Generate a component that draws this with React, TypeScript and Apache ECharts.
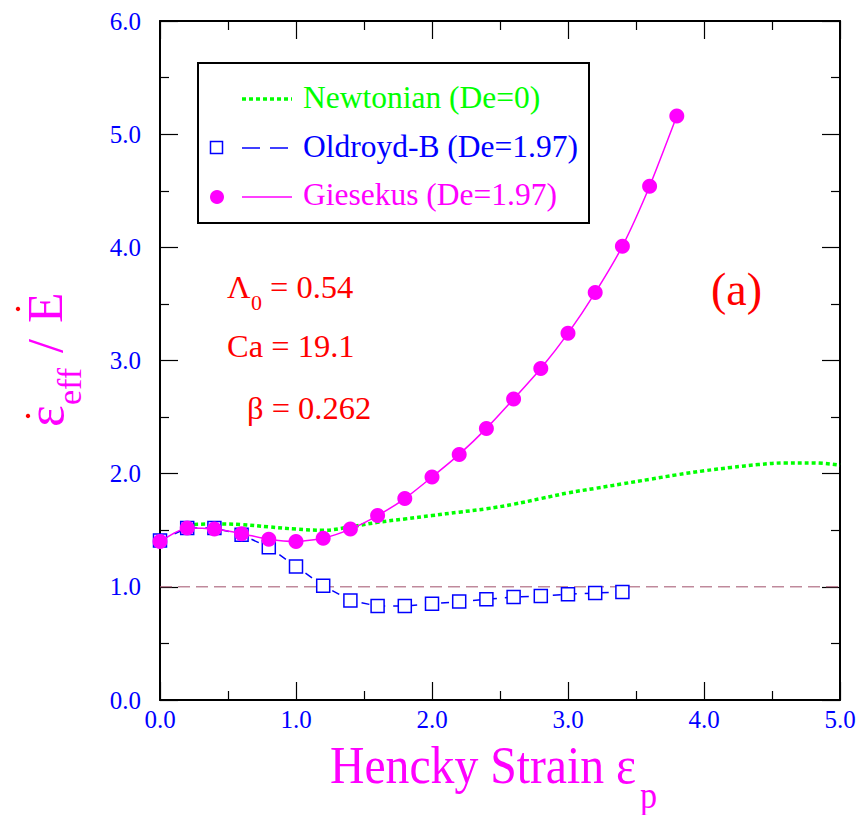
import React, { useEffect, useRef } from "react";
import * as echarts from "echarts";

// ---- data ----
const strainGiesekus = [0, 0.2, 0.4, 0.6, 0.8, 1.0, 1.2, 1.4, 1.6, 1.8, 2.0, 2.2, 2.4, 2.6, 2.8, 3.0, 3.2, 3.4, 3.6, 3.8];
const giesekus = [1.40, 1.52, 1.51, 1.47, 1.42, 1.40, 1.43, 1.51, 1.63, 1.78, 1.97, 2.17, 2.40, 2.66, 2.93, 3.24, 3.60, 4.01, 4.54, 5.16];

const strainOldroyd = [0, 0.2, 0.4, 0.6, 0.8, 1.0, 1.2, 1.4, 1.6, 1.8, 2.0, 2.2, 2.4, 2.6, 2.8, 3.0, 3.2, 3.4];
const oldroyd = [1.41, 1.52, 1.52, 1.46, 1.35, 1.18, 1.01, 0.88, 0.83, 0.83, 0.85, 0.87, 0.89, 0.91, 0.92, 0.935, 0.945, 0.955];

const strainNewtonian = [0.2, 0.4, 0.6, 0.8, 1.0, 1.2, 1.4, 1.6, 1.8, 2.0, 2.2, 2.4, 2.6, 2.8, 3.0, 3.2, 3.4, 3.6, 3.8, 4.0, 4.2, 4.4, 4.6, 4.8, 5.0];
const newtonian = [1.55, 1.555, 1.55, 1.53, 1.51, 1.50, 1.53, 1.57, 1.60, 1.63, 1.66, 1.69, 1.73, 1.78, 1.83, 1.87, 1.91, 1.95, 1.99, 2.025, 2.055, 2.08, 2.095, 2.095, 2.075];

const referenceStrain = [0, 5];
const referenceValue = [1, 1];

const legendLabels = ["Newtonian (De=0)", "Oldroyd-B (De=1.97)", "Giesekus (De=1.97)"];
const annotationLines = ["Ca = 19.1", "\u03B2 = 0.262"];

const SERIF = "'Liberation Serif', serif";
const GREEN = "#00ff00";
const BLUE = "#0000ff";
const MAGENTA = "#ff00ff";
const RED = "#ff0000";

const zip = (xs: number[], ys: number[]) => xs.map((x, i) => [x, ys[i]]);

export default function App() {
  const ref = useRef<HTMLDivElement>(null);

  useEffect(() => {
    if (!ref.current) return;
    const chart = echarts.init(ref.current, undefined, { renderer: "svg" });

    const axisCommon = {
      axisLine: { show: true, onZero: false, lineStyle: { color: "#000", width: 2 } },
      axisTick: { show: true, inside: true, length: 18, lineStyle: { color: "#000", width: 1.2 } },
      minorTick: { show: true, splitNumber: 2, length: 9, lineStyle: { color: "#000", width: 1.2 } },
      splitLine: { show: false },
    };

    const tickRich = {
      t: { color: BLUE, fontFamily: SERIF, fontSize: 25 },
    };

    const labelStyle = {
      color: BLUE,
      fontFamily: SERIF,
      fontSize: 25,
      formatter: (v: number) => `{t|${v.toFixed(1)}}`,
      rich: tickRich,
    };

    const option: any = {
      animation: false,
      backgroundColor: "#fff",
      textStyle: { fontFamily: SERIF },
      grid: { left: 160, right: 25, top: 21, bottom: 115 },
      xAxis: [
        {
          type: "value", min: 0, max: 5, interval: 1, position: "bottom",
          ...axisCommon,
          axisLabel: { ...labelStyle, margin: 7 },
        },
        {
          type: "value", min: 0, max: 5, interval: 1, position: "top",
          ...axisCommon,
          axisLabel: { show: false },
        },
      ],
      yAxis: [
        {
          type: "value", min: 0, max: 6, interval: 1, position: "left",
          ...axisCommon,
          axisLabel: { ...labelStyle, margin: 19 },
        },
        {
          type: "value", min: 0, max: 6, interval: 1, position: "right",
          ...axisCommon,
          axisLabel: { show: false },
        },
      ],
      series: [
        {
          type: "line",
          data: zip(referenceStrain, referenceValue),
          showSymbol: false,
          symbol: "none",
          lineStyle: { color: "#a0506a", width: 1, type: [12, 6] },
          z: 1,
        },
        {
          name: legendLabels[0],
          type: "line",
          data: zip(strainNewtonian, newtonian),
          symbol: "none",
          smooth: 0.4,
          lineStyle: { color: GREEN, width: 3.5, type: [4, 3] },
          z: 2,
        },
        {
          name: legendLabels[1],
          type: "line",
          data: zip(strainOldroyd, oldroyd),
          symbol: "rect",
          symbolSize: 13,
          itemStyle: { color: "#fff", borderColor: BLUE, borderWidth: 1.5 },
          lineStyle: { color: BLUE, width: 1.5, type: [8, 8] },
          z: 3,
        },
        {
          name: legendLabels[2],
          type: "line",
          data: zip(strainGiesekus, giesekus),
          symbol: "circle",
          symbolSize: 15,
          smooth: 0.2,
          itemStyle: { color: MAGENTA },
          lineStyle: { color: MAGENTA, width: 1.5 },
          z: 4,
        },
      ],
      graphic: [
        // legend box
        {
          type: "rect", z: 10,
          shape: { x: 198, y: 63, width: 391, height: 160 },
          style: { fill: "#fff", stroke: "#000", lineWidth: 2 },
        },
        {
          type: "line", z: 11,
          shape: { x1: 242, y1: 99, x2: 292, y2: 99 },
          style: { stroke: GREEN, lineWidth: 3.5, lineDash: [4, 3] },
        },
        {
          type: "text", z: 11, x: 303, y: 97,
          style: { text: legendLabels[0], fill: GREEN, font: `31.5px ${SERIF}`, textVerticalAlign: "middle" },
        },
        {
          type: "rect", z: 11,
          shape: { x: 210.5, y: 141.5, width: 12, height: 12 },
          style: { fill: "#fff", stroke: BLUE, lineWidth: 1.5 },
        },
        {
          type: "line", z: 11,
          shape: { x1: 242, y1: 148, x2: 288, y2: 148 },
          style: { stroke: BLUE, lineWidth: 1.5, lineDash: [18, 10] },
        },
        {
          type: "text", z: 11, x: 303, y: 146,
          style: { text: legendLabels[1], fill: BLUE, font: `31.5px ${SERIF}`, textVerticalAlign: "middle" },
        },
        {
          type: "circle", z: 11,
          shape: { cx: 217, cy: 197, r: 7 },
          style: { fill: MAGENTA },
        },
        {
          type: "line", z: 11,
          shape: { x1: 242, y1: 197, x2: 292, y2: 197 },
          style: { stroke: MAGENTA, lineWidth: 1.5 },
        },
        {
          type: "text", z: 11, x: 303, y: 194,
          style: { text: legendLabels[2], fill: MAGENTA, font: `31.5px ${SERIF}`, textVerticalAlign: "middle" },
        },
        // annotations
        {
          type: "text", z: 11, x: 227, y: 287,
          style: { text: "\u039B", fill: RED, font: `32.5px ${SERIF}`, textVerticalAlign: "middle" },
        },
        {
          type: "text", z: 11, x: 251, y: 302,
          style: { text: "0", fill: RED, font: `22px ${SERIF}`, textVerticalAlign: "middle" },
        },
        {
          type: "text", z: 11, x: 270, y: 287,
          style: { text: "= 0.54", fill: RED, font: `32.5px ${SERIF}`, textVerticalAlign: "middle" },
        },
        {
          type: "text", z: 11, x: 227, y: 346,
          style: { text: annotationLines[0], fill: RED, font: `32.5px ${SERIF}`, textVerticalAlign: "middle" },
        },
        {
          type: "text", z: 11, x: 247, y: 408,
          style: { text: annotationLines[1], fill: RED, font: `32.5px ${SERIF}`, textVerticalAlign: "middle" },
        },
        {
          type: "text", z: 11, x: 711, y: 289,
          style: { text: "(a)", fill: RED, font: `46px ${SERIF}`, textVerticalAlign: "middle" },
        },
        // x-axis title
        {
          type: "text", z: 11, x: 330, y: 765, scaleX: 0.9,
          style: { text: "Hencky Strain \u03B5", fill: MAGENTA, font: `53px ${SERIF}`, textVerticalAlign: "middle" },
        },
        {
          type: "text", z: 11, x: 640, y: 795, scaleX: 0.9,
          style: { text: "p", fill: MAGENTA, font: `38px ${SERIF}`, textVerticalAlign: "middle" },
        },
        // y-axis title (rotated, reads bottom to top)
        {
          type: "group", x: 62, y: 427, rotation: Math.PI / 2, z: 11,
          children: [
            {
              type: "text", x: 0, y: -17,
              style: { text: "\u03B5", fill: MAGENTA, font: `52px ${SERIF}`, textVerticalAlign: "middle" },
            },
            {
              type: "text", x: 22, y: 7,
              style: { text: "eff", fill: MAGENTA, font: `34px ${SERIF}`, textVerticalAlign: "middle" },
            },
            {
              type: "text", x: 74, y: -17,
              style: { text: "/", fill: MAGENTA, font: `50px ${SERIF}`, textVerticalAlign: "middle" },
            },
            {
              type: "text", x: 104, y: -17,
              style: { text: "E", fill: MAGENTA, font: `50px ${SERIF}`, textVerticalAlign: "middle" },
            },
            { type: "circle", shape: { cx: 11, cy: -34, r: 2.2 }, style: { fill: RED } },
            { type: "circle", shape: { cx: 118, cy: -44, r: 2.2 }, style: { fill: RED } },
          ],
        },
      ],
    };

    chart.setOption(option);
    return () => chart.dispose();
  }, []);

  return (
    <div
      ref={ref}
      style={{ position: "fixed", left: 0, top: 0, width: 865, height: 815, background: "#fff" }}
    />
  );
}
